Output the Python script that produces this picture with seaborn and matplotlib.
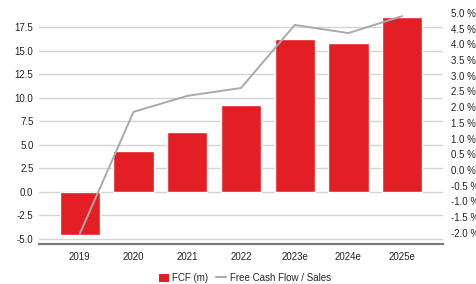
import numpy as np
import pandas as pd
import seaborn as sns
import matplotlib.pyplot as plt
from matplotlib.lines import Line2D
from matplotlib.patches import Patch

# datos
years = ["2019", "2020", "2021", "2022", "2023e", "2024e", "2025e"]
fcf = [-4.6, 4.3, 6.4, 9.2, 16.2, 15.8, 18.6]
fcf_sales = [-2.03, 1.85, 2.36, 2.61, 4.62, 4.36, 4.9]
left_ticks = [-5.0, -2.5, 0.0, 2.5, 5.0, 7.5, 10.0, 12.5, 15.0, 17.5]
right_ticks = [-2.0, -1.5, -1.0, -0.5, 0.0, 0.5, 1.0, 1.5, 2.0, 2.5, 3.0, 3.5, 4.0, 4.5, 5.0]

RED = "#E31E24"
GREY = "#AAAAAA"

sns.set_style("white")
plt.rcParams["font.family"] = ["Liberation Sans", "DejaVu Sans"]
plt.rcParams["font.size"] = 7

df = pd.DataFrame({"year": years, "fcf": fcf, "pct": fcf_sales})

fig = plt.figure(figsize=(4.77, 2.84), dpi=100)
ax = fig.add_axes([39 / 477, 1 - 244 / 284, (443 - 39) / 477, (244 - 13) / 284])

sns.barplot(data=df, x="year", y="fcf", color=RED, saturation=1, width=0.75, ax=ax, zorder=2)
ax.set_xlim(-0.76, 6.76)
ax.set_ylim(-5.53, 19.0)
ax.set_yticks(left_ticks)
ax.set_yticklabels([f"{t:.1f}" for t in left_ticks], color="#222222")
ax.tick_params(axis="y", length=0, pad=4)
ax.tick_params(axis="x", length=2, color="#dddddd", direction="in", pad=6, labelcolor="#222222")
for t in left_ticks:
    ax.axhline(t, color="#d4d4d4", lw=1.0, zorder=0)
for s in ["top", "right", "left"]:
    ax.spines[s].set_visible(False)
ax.spines["bottom"].set_color("#7a7a7a")
ax.spines["bottom"].set_linewidth(1.6)
ax.set_xlabel("")
ax.set_ylabel("")

ax2 = ax.twinx()
sns.lineplot(x=np.arange(len(years)), y=df["pct"], color=GREY, lw=1.4, ax=ax2, zorder=3)
ax2.set_ylim(-2.36, 5.0)
ax2.set_yticks(right_ticks)
ax2.set_yticklabels([f"{t:.1f} %" for t in right_ticks], color="#222222")
ax2.tick_params(axis="y", length=0, pad=6)
for s in ["top", "right", "left", "bottom"]:
    ax2.spines[s].set_visible(False)
ax2.set_ylabel("")
ax2.set_xlim(-0.76, 6.76)

handles = [Patch(facecolor=RED, edgecolor="none", label="FCF (m)"),
           Line2D([0], [0], color=GREY, lw=1.4, label="Free Cash Flow / Sales")]
fig.legend(handles=handles, loc="center", bbox_to_anchor=(245 / 477, 1 - 278 / 284),
           ncol=2, frameon=False, fontsize=7, handlelength=1.0, handleheight=0.9,
           handletextpad=0.4, columnspacing=0.8)

fig.savefig("out.png", dpi=100)
